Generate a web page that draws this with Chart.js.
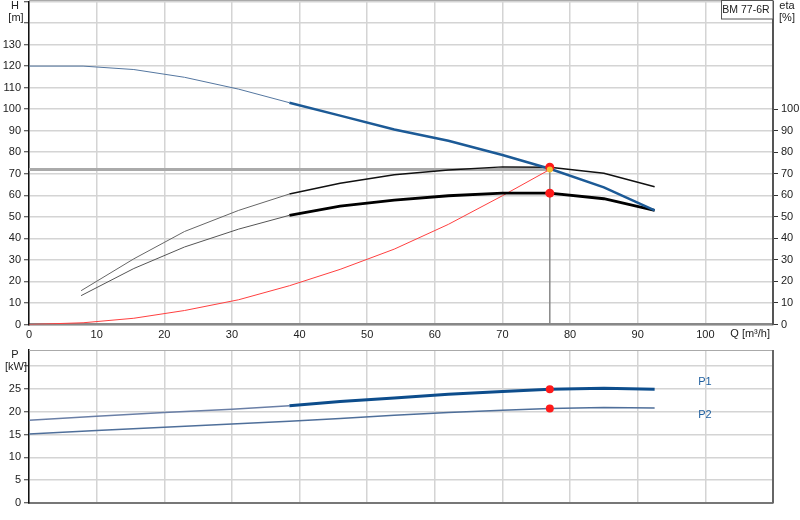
<!DOCTYPE html>
<html>
<head>
<meta charset="utf-8">
<title>BM 77-6R</title>
<script src="https://cdn.jsdelivr.net/npm/chart.js@4.4.1/dist/chart.umd.min.js"></script>
<style>
  html, body { margin: 0; padding: 0; background: #fff; overflow: hidden; }
  #wrap { position: relative; width: 800px; height: 520px; overflow: hidden; }
  canvas { position: absolute; left: 0; }
  #headCanvas { top: -3px; }
  #powerCanvas { top: 345px; }
</style>
</head>
<body>
<div id="wrap">
  <canvas id="headCanvas" width="800" height="348"></canvas>
  <canvas id="powerCanvas" width="800" height="175"></canvas>
</div>
<script>
// pump curve (Q in m3/h, H in m)
var qHead = [0, 8, 15.5, 23, 31, 38.5, 46, 54, 62, 70, 77, 85, 92.5];
var headValues = [120, 120, 118.4, 114.8, 109.3, 103, 97, 90.6, 85.3, 78.7, 72.3, 63.7, 53];

// efficiencies (%)
var qEta = [7.7, 15.5, 23, 31, 38.5, 46, 54, 62, 70, 77, 85, 92.5];
var etaPump = [15.7, 30.5, 43.2, 53, 60.6, 65.6, 69.5, 71.8, 73.2, 73, 70.2, 64];
var etaTotal = [13.4, 26, 36, 44.3, 50.7, 55, 57.8, 59.8, 61, 61, 58.4, 53];

// system curve
var qSystem = [0, 8, 15.5, 23, 31, 38.5, 46, 54, 62, 70, 77];
var headSystem = [0, 0.8, 2.9, 6.5, 11.5, 18, 25.6, 35, 46.5, 59.8, 72];

// power (kW)
var qPower = [0, 10, 20, 30, 38.5, 46, 54, 62, 70, 77, 85, 92.5];
var powerP1 = [18.1, 19.0, 19.8, 20.5, 21.3, 22.2, 23.0, 23.8, 24.4, 24.9, 25.1, 24.9];
var powerP2 = [15.1, 15.9, 16.6, 17.3, 17.9, 18.5, 19.2, 19.8, 20.3, 20.7, 20.9, 20.8];

// duty point
var dutyQ = 77;
var dutyH = 72;
var dutyEtaPump = 73;
var dutyEtaTotal = 61;
var dutyP1 = 24.9;
var dutyP2 = 20.7;

var qMax = 110;
var hMax = 150;
var pMax = 33.5;
var thickFrom = 38.5;

var FONT = 'Liberation Sans, Arial, sans-serif';
var tickFont = { family: FONT, size: 11 };
var headShift = 3; // head canvas sits 3px above the page top

function pts(xs, ys) {
    return xs.map(function(x, i) { return { x: x, y: ys[i] }; });
}

function byRange(thin, thick) {
    return function(ctx) { return ctx.p0.parsed.x >= thickFrom ? thick : thin; };
}

function noPad(s) {
    s.paddingTop = 0;
    s.paddingBottom = 0;
    s.paddingLeft = 0;
    s.paddingRight = 0;
}

function dot(x, y, color, r, axis) {
    return {
        data: [{ x: x, y: y }],
        yAxisID: axis || 'y',
        showLine: false,
        pointRadius: r,
        pointBackgroundColor: color,
        pointBorderWidth: 0
    };
}

var headDecor = {
    id: 'headDecor',
    afterDraw: function(chart) {
        var c = chart.ctx, a = chart.chartArea, s = headShift;
        c.save();
        c.strokeStyle = '#aaa';
        c.lineWidth = 1;
        c.beginPath();
        c.moveTo(a.left, s + 0.5);
        c.lineTo(a.right, s + 0.5);
        c.stroke();
        // model box
        c.fillStyle = '#fff';
        c.fillRect(721, s, 52, 19);
        c.strokeStyle = '#555';
        c.strokeRect(721.5, s + 0.5, 51.5, 18.5);
        c.fillStyle = '#222';
        c.font = '10.5px ' + FONT;
        c.textBaseline = 'middle';
        c.textAlign = 'center';
        c.fillText('BM 77-6R', 746, s + 10);
        c.font = '11px ' + FONT;
        c.fillText('H', 15, s + 6);
        c.fillText('[m]', 16, s + 18);
        c.fillText('eta', 787, s + 6);
        c.fillText('[%]', 787, s + 18);
        c.textAlign = 'right';
        c.fillText('Q [m\u00b3/h]', 770, s + 334);
        c.restore();
    }
};

var powerDecor = {
    id: 'powerDecor',
    afterDraw: function(chart) {
        var c = chart.ctx, a = chart.chartArea;
        c.save();
        c.strokeStyle = '#aaa';
        c.lineWidth = 1;
        c.beginPath();
        c.moveTo(a.left, a.top + 0.5);
        c.lineTo(a.right, a.top + 0.5);
        c.stroke();
        c.strokeStyle = '#666';
        c.lineWidth = 2;
        c.beginPath();
        c.moveTo(a.right, a.top);
        c.lineTo(a.right, a.bottom);
        c.stroke();
        c.fillStyle = '#222';
        c.font = '11px ' + FONT;
        c.textBaseline = 'middle';
        c.textAlign = 'center';
        c.fillText('P', 15, 10);
        c.fillText('[kW]', 16, 22);
        c.fillStyle = '#1f5f9f';
        c.fillText('P1', 705, 37);
        c.fillText('P2', 705, 70);
        c.restore();
    }
};

new Chart(document.getElementById('headCanvas').getContext('2d'), {
    type: 'line',
    data: {
        datasets: [
            dot(dutyQ, dutyH, '#f2c230', 3),
            dot(dutyQ, dutyEtaPump, '#ff1a1a', 4.5, 'eta'),
            dot(dutyQ, dutyEtaTotal, '#ff1a1a', 4.5, 'eta'),
            {
                data: pts(qHead, headValues),
                borderColor: '#1c5a96',
                borderWidth: 1,
                segment: {
                    borderWidth: byRange(1, 2.5),
                    borderColor: byRange('#5577a0', '#1c5a96')
                }
            },
            {
                data: pts(qEta, etaPump),
                yAxisID: 'eta',
                borderColor: '#111',
                borderWidth: 1,
                segment: {
                    borderWidth: byRange(1, 1.5),
                    borderColor: byRange('#666', '#111')
                }
            },
            {
                data: pts(qEta, etaTotal),
                yAxisID: 'eta',
                borderColor: '#000',
                borderWidth: 1,
                segment: {
                    borderWidth: byRange(1, 2.8),
                    borderColor: byRange('#555', '#000')
                }
            },
            {
                data: pts(qSystem, headSystem),
                borderColor: '#ff4040',
                borderWidth: 1
            },
            {
                data: [{ x: 0, y: dutyH }, { x: dutyQ, y: dutyH }],
                borderColor: '#aaa',
                borderWidth: 3
            },
            {
                data: [{ x: dutyQ, y: 0 }, { x: dutyQ, y: dutyH }],
                borderColor: '#888',
                borderWidth: 1.5
            }
        ]
    },
    options: {
        responsive: false,
        animation: false,
        layout: { padding: { top: 0, left: 0, right: 0, bottom: 0 } },
        elements: { point: { radius: 0 }, line: { tension: 0 } },
        plugins: { legend: { display: false }, tooltip: { enabled: false } },
        scales: {
            x: {
                type: 'linear',
                min: 0,
                max: qMax,
                afterBuildTicks: function(s) { s.ticks = s.ticks.filter(function(t) { return t.value <= 100; }); },
                afterFit: function(s) { s.height = 20.5; noPad(s); },
                ticks: { stepSize: 10, font: tickFont, color: '#222', padding: 4, maxRotation: 0 },
                grid: { color: '#d4d4d4', lineWidth: 1.5, drawTicks: false },
                border: { color: '#888', width: 2.5 }
            },
            y: {
                position: 'left',
                min: 0,
                max: hMax,
                afterFit: function(s) { s.width = 29; noPad(s); },
                ticks: {
                    stepSize: 10,
                    font: tickFont,
                    color: '#222',
                    padding: 3,
                    callback: function(v) { return v <= 130 ? v : ''; }
                },
                grid: { color: '#d4d4d4', lineWidth: 1.5, tickLength: 5, tickColor: '#333', tickWidth: 1 },
                border: { color: '#111', width: 1.5 }
            },
            eta: {
                position: 'right',
                min: 0,
                max: hMax,
                afterBuildTicks: function(s) { s.ticks = s.ticks.filter(function(t) { return t.value <= 100; }); },
                afterFit: function(s) { s.width = 27; noPad(s); },
                ticks: { stepSize: 10, font: tickFont, color: '#222', padding: 3 },
                grid: { drawOnChartArea: false, tickLength: 5, tickColor: '#333', tickWidth: 1 },
                border: { color: '#555', width: 2 }
            }
        }
    },
    plugins: [headDecor]
});

new Chart(document.getElementById('powerCanvas').getContext('2d'), {
    type: 'line',
    data: {
        datasets: [
            dot(dutyQ, dutyP1, '#ff1a1a', 4),
            dot(dutyQ, dutyP2, '#ff1a1a', 4),
            {
                data: pts(qPower, powerP1),
                borderColor: '#0d4d8c',
                borderWidth: 1,
                segment: {
                    borderWidth: byRange(1.5, 3),
                    borderColor: byRange('#6a7fa6', '#0d4d8c')
                }
            },
            {
                data: pts(qPower, powerP2),
                borderColor: '#4f6f9a',
                borderWidth: 1.5
            }
        ]
    },
    options: {
        responsive: false,
        animation: false,
        layout: { padding: { top: 5, left: 0, right: 27, bottom: 0 } },
        elements: { point: { radius: 0 }, line: { tension: 0 } },
        plugins: { legend: { display: false }, tooltip: { enabled: false } },
        scales: {
            x: {
                type: 'linear',
                min: 0,
                max: qMax,
                afterFit: function(s) { s.height = 17; noPad(s); },
                ticks: { stepSize: 10, display: false },
                grid: { color: '#d4d4d4', lineWidth: 1.5, drawTicks: false },
                border: { color: '#777', width: 2 }
            },
            y: {
                position: 'left',
                min: 0,
                max: pMax,
                afterBuildTicks: function(s) { s.ticks = s.ticks.filter(function(t) { return t.value % 5 === 0; }); },
                afterFit: function(s) { s.width = 29; noPad(s); },
                ticks: {
                    stepSize: 5,
                    font: tickFont,
                    color: '#222',
                    padding: 3,
                    callback: function(v) { return v <= 25 ? v : ''; }
                },
                grid: { color: '#d4d4d4', lineWidth: 1.5, tickLength: 5, tickColor: '#333', tickWidth: 1 },
                border: { color: '#111', width: 1.5 }
            }
        }
    },
    plugins: [powerDecor]
});
</script>
</body>
</html>
